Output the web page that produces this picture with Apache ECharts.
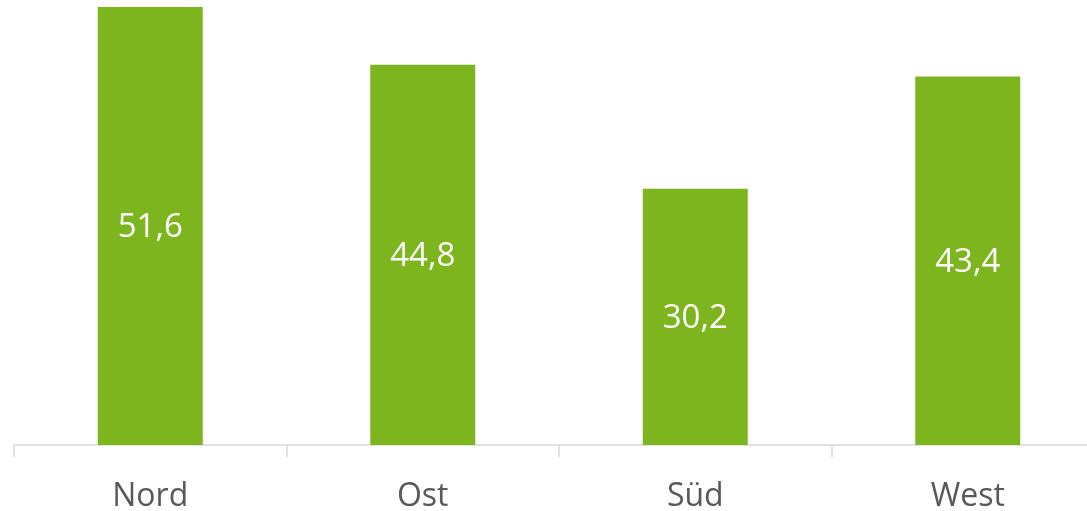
<!DOCTYPE html>
<html><head><meta charset="utf-8">
<script src="https://cdn.jsdelivr.net/npm/echarts@6/dist/echarts.min.js"></script>
<style>html,body{margin:0;padding:0;background:#fff;overflow:hidden;width:1087px;height:511px}#c{width:1105px;height:511px}</style>
</head><body><div id="c"></div>
<script>
const categories = ['Nord', 'Ost', 'Süd', 'West'];
const values = [51.6, 44.8, 30.2, 43.4];

const chart = echarts.init(document.getElementById('c'), null, {renderer: 'canvas'});
chart.setOption({
  animation: false,
  grid: {left: 14, right: 1, top: 7, bottom: 66, containLabel: false, outerBoundsMode: 'none'},
  xAxis: {
    type: 'category', data: categories,
    axisLine: {lineStyle: {color: '#d9d9d9', width: 1.5}},
    axisTick: {show: true, length: 12, lineStyle: {color: '#d9d9d9', width: 1.5}},
    axisLabel: {color: '#595959', fontSize: 32, fontFamily: 'Open Sans', margin: 36}
  },
  yAxis: {type: 'value', min: 0, max: 51.6, show: false, splitLine: {show: false}},
  series: [{
    type: 'bar', data: values, barWidth: 105,
    itemStyle: {color: '#7db51f'},
    label: {show: true, position: 'inside', offset: [0, 2], color: '#fff', fontSize: 33, fontFamily: 'Open Sans',
      formatter: p => String(p.value).replace('.', ',')}
  }]
});
</script></body></html>
